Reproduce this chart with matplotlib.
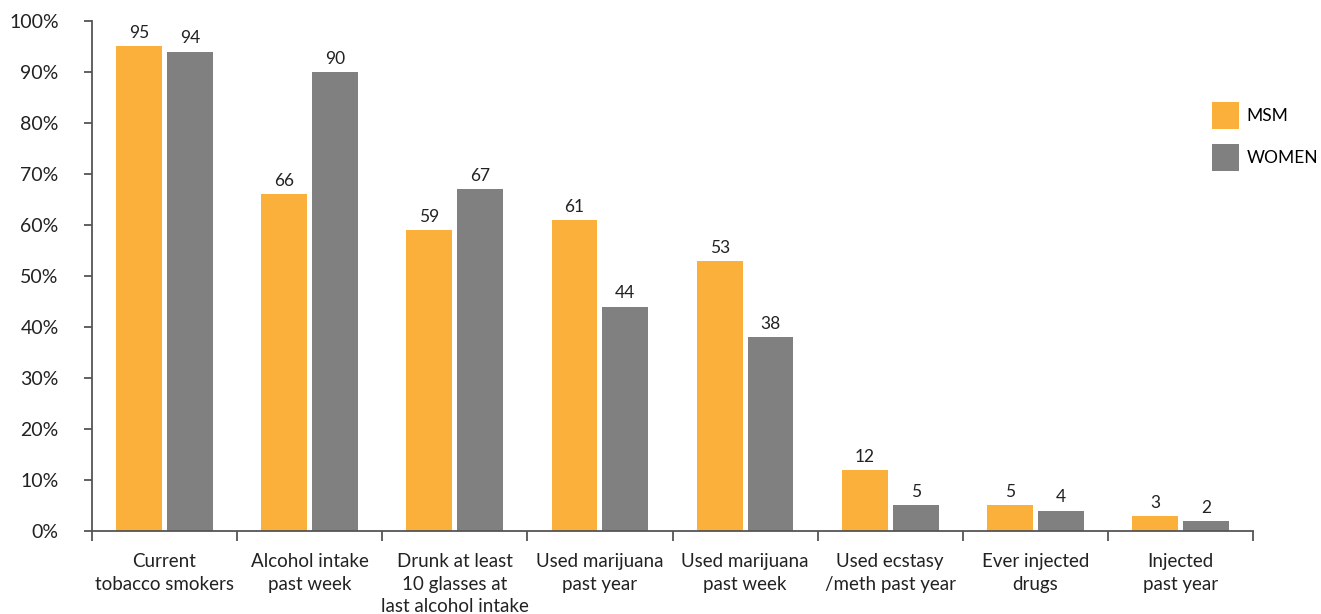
import numpy as np
import matplotlib.pyplot as plt

# Categories and values (percent)
categories = ['Current\ntobacco smokers', 'Alcohol intake\npast week',
              'Drunk at least\n10 glasses at\nlast alcohol intake',
              'Used marijuana\npast year', 'Used marijuana\npast week',
              'Used ecstasy\n/meth past year', 'Ever injected\ndrugs',
              'Injected\npast year']
msm = [95, 66, 59, 61, 53, 12, 5, 3]
women = [94, 90, 67, 44, 38, 5, 4, 2]
yticks = list(range(0, 101, 10))

plt.rcParams['font.family'] = ['Lato', 'DejaVu Sans']

fig = plt.figure(figsize=(13.21, 6.14), dpi=100)
ax = fig.add_axes([0.0696, 0.1352, 0.879, 0.8306])

x = np.arange(len(categories))
w = 0.316
off = 0.175
b1 = ax.bar(x - off, msm, w, color='#FBB03B', label='MSM')
b2 = ax.bar(x + off, women, w, color='#808080', label='WOMEN')

# value labels above bars
for bars, vals in ((b1, msm), (b2, women)):
    for b, v in zip(bars, vals):
        ax.text(b.get_x() + b.get_width() / 2, v + 1.0, str(v),
                ha='center', va='bottom', fontsize=12.5, color='#222222')

ax.set_xlim(-0.5, len(categories) - 0.5)
ax.set_ylim(0, 100)
ax.set_yticks(yticks)
ax.set_yticklabels([f'{t}%' for t in yticks])

# category labels centered, tick marks at the boundaries
ax.set_xticks(x)
ax.set_xticklabels(categories, va='top', linespacing=1.4)
ax.set_xticks(np.arange(-0.5, len(categories)), minor=True)
ax.tick_params(axis='x', which='major', length=0, pad=16, labelsize=13.5, colors='#222222')
ax.tick_params(axis='x', which='minor', length=7, width=1.3, color='#555555', direction='out')
ax.tick_params(axis='y', length=6, width=1.3, color='#555555', labelsize=14,
               labelcolor='#222222', pad=18)

for s in ('top', 'right'):
    ax.spines[s].set_visible(False)
for s in ('left', 'bottom'):
    ax.spines[s].set_color('#555555')
    ax.spines[s].set_linewidth(1.3)

ax.legend(loc='upper left', bbox_to_anchor=(0.9585, 0.855), frameon=False,
          handlelength=1.55, handleheight=2.05, labelspacing=0.85,
          handletextpad=0.45, fontsize=12.5, borderaxespad=0)

fig.savefig('out.png', dpi=100)
